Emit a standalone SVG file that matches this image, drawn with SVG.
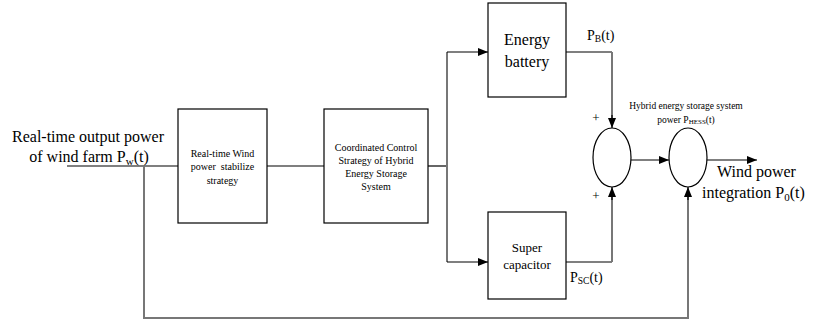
<svg xmlns="http://www.w3.org/2000/svg" width="823" height="322" viewBox="0 0 823 322" font-family="'Liberation Serif', 'Times New Roman', 'DejaVu Serif', serif">
<style>
.box{fill:#fff;stroke:#000;stroke-width:1.2}
.ln{fill:none;stroke:#000;stroke-width:1.2}
.gl{fill:none;stroke:#777;stroke-width:2}
.t{font-family:'Liberation Serif','Times New Roman',serif;fill:#000}
.s10{font-size:10px}
.s16{font-size:16px}
.s13{font-size:13px}
.s14{font-size:14px}
.s9{font-size:9.5px}
</style>
<defs>
<marker id="ah" viewBox="0 0 10 8" refX="10" refY="4" markerWidth="10" markerHeight="8" markerUnits="userSpaceOnUse" orient="auto">
<path d="M0,0 L10,4 L0,8 z" fill="#000"/>
</marker>
</defs>
<rect width="823" height="322" fill="#fff"/>
<g id="connectors">
<path class="ln" d="M67,166 H178"/>
<path class="gl" d="M144,166 V318 H688 V197"/>
<path class="ln" d="M688,200 V187" marker-end="url(#ah)"/>
<path class="ln" d="M267,166 H324"/>
<path class="ln" d="M428,166 H447"/>
<path class="gl" d="M447,52 V262"/>
<path class="ln" d="M447,52 H488" marker-end="url(#ah)"/>
<path class="ln" d="M447,262 H488" marker-end="url(#ah)"/>
<path class="ln" d="M566,52 H612"/>
<path class="gl" d="M612,52 V118"/>
<path class="ln" d="M612,115 V128" marker-end="url(#ah)"/>
<path class="ln" d="M566,262 H612"/>
<path class="gl" d="M612,262 V197"/>
<path class="ln" d="M612,200 V187" marker-end="url(#ah)"/>
<path class="ln" d="M631,160 H669" marker-end="url(#ah)"/>
<path class="ln" d="M707,160 H757" marker-end="url(#ah)"/>
</g>
<g id="input-label" class="t">
<text class="t s16" x="88" y="142" text-anchor="middle">Real-time output power</text>
<text class="t s16" x="89" y="162" text-anchor="middle">of wind farm P<tspan font-size="11" dy="3">w</tspan><tspan dy="-3">(t)</tspan></text>
</g>
<g id="stabilize" class="t">
<rect class="box" x="178" y="109" width="89" height="114"/>
<text class="t s10" x="222.5" y="156.5" text-anchor="middle">Real-time Wind</text>
<text class="t s10" x="222.5" y="170" text-anchor="middle" xml:space="preserve">power  stabilize</text>
<text class="t s10" x="222.5" y="183.5" text-anchor="middle">strategy</text>
</g>
<g id="coordinated" class="t">
<rect class="box" x="324" y="109" width="104" height="114"/>
<text class="t s10" x="376" y="150.5" text-anchor="middle">Coordinated Control</text>
<text class="t s10" x="376" y="163.5" text-anchor="middle">Strategy of Hybrid</text>
<text class="t s10" x="376" y="176.5" text-anchor="middle">Energy Storage</text>
<text class="t s10" x="376" y="189.5" text-anchor="middle">System</text>
</g>
<g id="battery" class="t">
<rect class="box" x="488" y="3" width="78" height="94"/>
<text class="t s16" x="527" y="45" text-anchor="middle">Energy</text>
<text class="t s16" x="527" y="67" text-anchor="middle">battery</text>
<text class="t s14" x="587" y="40">P<tspan font-size="9.5" dy="2">B</tspan><tspan dy="-2">(t)</tspan></text>
</g>
<g id="supercap" class="t">
<rect class="box" x="488" y="212" width="78" height="87"/>
<text class="t s13" x="527" y="252" text-anchor="middle">Super</text>
<text class="t s13" x="527" y="269" text-anchor="middle">capacitor</text>
<text class="t s14" x="570" y="282">P<tspan font-size="9.5" dy="2">SC</tspan><tspan dy="-2">(t)</tspan></text>
</g>
<g id="sum1" class="t">
<ellipse cx="612" cy="157.5" rx="19" ry="29.5" fill="#fff" stroke="#000" stroke-width="1.2"/>
<text class="t s13" x="596" y="122" text-anchor="middle">+</text>
<text class="t s13" x="596" y="200" text-anchor="middle">+</text>
</g>
<g id="sum2" class="t">
<ellipse cx="688" cy="157.5" rx="19" ry="29.5" fill="#fff" stroke="#000" stroke-width="1.2"/>
<text class="t s9" x="686" y="109" text-anchor="middle">Hybrid energy storage system</text>
<text class="t s9" x="686" y="123" text-anchor="middle">power P<tspan font-size="7" dy="1">HESS</tspan><tspan dy="-1">(t)</tspan></text>
</g>
<g id="output-label" class="t">
<text class="t s16" x="717" y="177">Wind power</text>
<text class="t s16" x="702" y="198">integration P<tspan font-size="11" dy="3">0</tspan><tspan dy="-3">(t)</tspan></text>
</g>
</svg>
